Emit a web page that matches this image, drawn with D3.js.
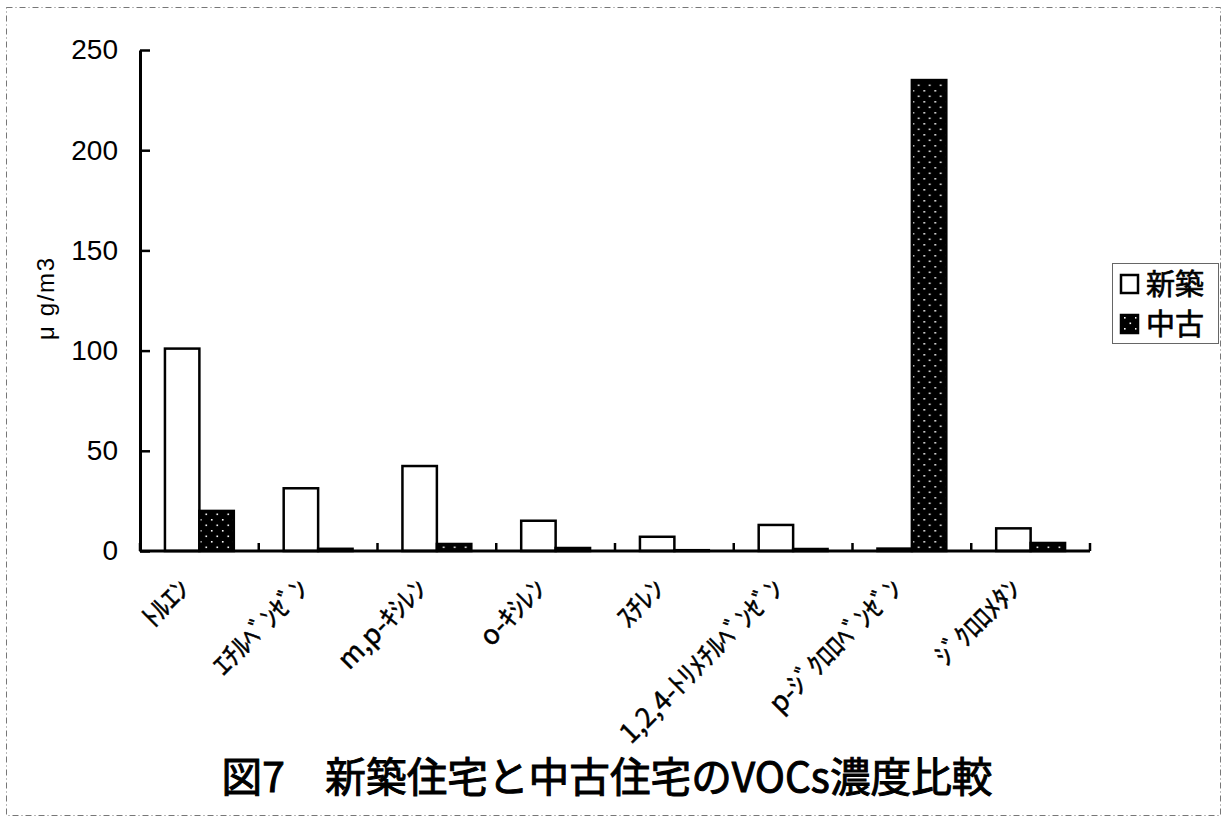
<!DOCTYPE html>
<html>
<head>
<meta charset="utf-8">
<script src="https://cdn.jsdelivr.net/npm/d3@7"></script>
<style>
  html, body { margin: 0; padding: 0; background: #fff; }
  svg { display: block; }
</style>
</head>
<body>
<svg id="chart" width="1227" height="823"></svg>
<script>
// VOC concentrations (μg/m3): newly built vs. older houses
const categories = ["ﾄﾙｴﾝ", "ｴﾁﾙﾍﾞﾝｾﾞﾝ", "m,p-ｷｼﾚﾝ", "o-ｷｼﾚﾝ", "ｽﾁﾚﾝ", "1,2,4-ﾄﾘﾒﾁﾙﾍﾞﾝｾﾞﾝ", "p-ｼﾞｸﾛﾛﾍﾞﾝｾﾞﾝ", "ｼﾞｸﾛﾛﾒﾀﾝ"];
const seriesNames = ["新築", "中古"];
const newHouse = [101, 31.3, 42.4, 15.1, 7.1, 13, 1.2, 11.3];
const oldHouse = [20, 1.1, 3.5, 1.5, 0.4, 1, 235, 4];
const yTicks = [0, 50, 100, 150, 200, 250];
const titleText = "図7　新築住宅と中古住宅のVOCs濃度比較";
const yLabel = "μ g/m3";

const svg = d3.select("#chart");
const plot = { left: 140, right: 1090, top: 50, bottom: 551 };

// outer dashed frame
svg.append("rect")
  .attr("x", 6.5).attr("y", 7.5).attr("width", 1214).attr("height", 808)
  .attr("fill", "none").attr("stroke", "#777").attr("stroke-width", 1)
  .attr("stroke-dasharray", "6,3,1,3");

// dotted fill for the older-house series
const defs = svg.append("defs");
const pat = defs.append("pattern").attr("id", "dots")
  .attr("patternUnits", "userSpaceOnUse").attr("width", 11).attr("height", 11);
pat.append("rect").attr("width", 11).attr("height", 11).attr("fill", "#000");
pat.append("rect").attr("x", 2).attr("y", 2).attr("width", 1.6).attr("height", 1.6).attr("fill", "#fff");
pat.append("rect").attr("x", 7.5).attr("y", 7.5).attr("width", 1.6).attr("height", 1.6).attr("fill", "#fff");

const x0 = d3.scaleBand().domain(categories)
  .range([plot.left, plot.right]).paddingInner(0.42).paddingOuter(0.21);
const x1 = d3.scaleBand().domain(seriesNames).range([0, x0.bandwidth()]);
const y = d3.scaleLinear().domain([0, 250]).range([plot.bottom, plot.top]);

const rows = categories.map((c, i) => ({ cat: c, vals: [newHouse[i], oldHouse[i]] }));

// bars
const groups = svg.append("g").selectAll("g").data(rows).join("g")
  .attr("transform", d => `translate(${x0(d.cat)},0)`);
groups.selectAll("rect").data(d => d.vals.map((v, k) => ({ v, s: seriesNames[k] })))
  .join("rect")
  .attr("x", d => x1(d.s))
  .attr("y", d => y(d.v))
  .attr("width", x1.bandwidth())
  .attr("height", d => y(0) - y(d.v))
  .attr("fill", d => d.s === seriesNames[0] ? "#fff" : "url(#dots)")
  .attr("stroke", "#000").attr("stroke-width", 2.5);

// y axis
const yAxis = svg.append("g").attr("transform", `translate(${plot.left},0)`)
  .call(d3.axisLeft(y).tickValues(yTicks).tickSizeInner(-10).tickSizeOuter(0).tickPadding(22));
yAxis.select(".domain").attr("stroke", "#000").attr("stroke-width", 3);
yAxis.selectAll(".tick line").attr("stroke", "#000").attr("stroke-width", 2.5);
yAxis.selectAll(".tick text")
  .attr("font-family", "'Liberation Sans', Arial, sans-serif")
  .attr("font-size", 28).attr("fill", "#000");

// x axis with ticks at category boundaries
const step = x0.step();
const boundaries = d3.range(categories.length + 1).map(i => plot.left + i * step);
svg.append("line")
  .attr("x1", plot.left).attr("x2", plot.right)
  .attr("y1", plot.bottom).attr("y2", plot.bottom)
  .attr("stroke", "#000").attr("stroke-width", 3);
svg.append("g").selectAll("line").data(boundaries).join("line")
  .attr("x1", d => d).attr("x2", d => d)
  .attr("y1", plot.bottom).attr("y2", plot.bottom - 8)
  .attr("stroke", "#000").attr("stroke-width", 2.5);

// rotated category labels
svg.append("g").selectAll("text").data(categories).join("text")
  .attr("transform", d => `translate(${x0(d) + x0.bandwidth() / 2 - 8},${plot.bottom + 40}) rotate(-45)`)
  .attr("text-anchor", "end")
  .attr("font-family", "'Noto Sans CJK JP', sans-serif")
  .attr("font-size", 27).attr("fill", "#000")
  .attr("stroke", "#000").attr("stroke-width", 0.5)
  .text(d => d);

// y axis title
svg.append("text")
  .attr("transform", "translate(54,299) rotate(-90)")
  .attr("text-anchor", "middle")
  .attr("font-family", "'Liberation Sans', Arial, sans-serif")
  .attr("font-size", 24).attr("fill", "#000")
  .attr("textLength", 82).attr("lengthAdjust", "spacing")
  .text(yLabel);

// legend
const lg = svg.append("g");
lg.append("rect").attr("x", 1112.5).attr("y", 263.5).attr("width", 106).attr("height", 80)
  .attr("fill", "#fff").attr("stroke", "#666").attr("stroke-width", 1);
const items = lg.selectAll("g").data(seriesNames).join("g")
  .attr("transform", (d, i) => `translate(0,${i * 40})`);
items.append("rect")
  .attr("x", 1121).attr("y", 275).attr("width", 17).attr("height", 18)
  .attr("fill", (d, i) => i === 0 ? "#fff" : "url(#dots)")
  .attr("stroke", "#000").attr("stroke-width", 2.5);
items.append("text")
  .attr("x", 1146).attr("y", 295)
  .attr("font-family", "'Noto Sans CJK JP', sans-serif")
  .attr("font-size", 29).attr("fill", "#000")
  .attr("stroke", "#000").attr("stroke-width", 0.7)
  .text(d => d);

// chart title
svg.append("text")
  .attr("x", 607).attr("y", 792)
  .attr("text-anchor", "middle")
  .attr("font-family", "'Noto Sans CJK JP', sans-serif")
  .attr("font-size", 41).attr("fill", "#000")
  .attr("stroke", "#000").attr("stroke-width", 1)
  .attr("textLength", 771).attr("lengthAdjust", "spacingAndGlyphs")
  .text(titleText);
</script>
</body>
</html>
